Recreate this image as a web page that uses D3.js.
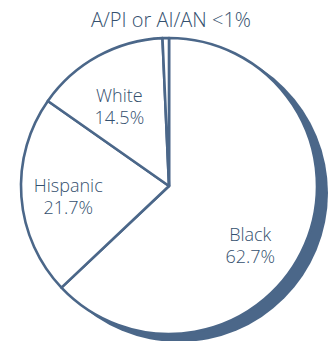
<!DOCTYPE html>
<meta charset="utf-8">
<style>
    body { margin: 0; background: #fff; }
    text {
        font-family: "Open Sans", "Lato", sans-serif;
        font-weight: 300;
        fill: #34506e;
    }
</style>

<svg width="334" height="341"></svg>

<script src="https://cdn.jsdelivr.net/npm/d3@7"></script>
<script>

    // DATA

    var groups = ["Black", "Hispanic", "White", "A/PI or AI/AN"];
    var shares = [62.7, 21.7, 14.5, 0.7];
    var shareLabels = ["62.7%", "21.7%", "14.5%", "<1%"];

    // SETUP

    var svg = d3.select("svg"),
        cx = 169, cy = 186, radius = 148,
        ink = "#4b6789";

    var pie = d3.pie().sort(null).value(function (d) { return d.v; });
    var arc = d3.arc().innerRadius(0).outerRadius(radius);
    var labelArc = d3.arc().innerRadius(95).outerRadius(95);

    // nudges so labels sit where the original puts them
    var nudge = {
        "Black": [-6, 20],
        "Hispanic": [-6, 2],
        "White": [-4, 2]
    };

    var data = groups.map(function (g, i) { return { name: g, v: shares[i], label: shareLabels[i] }; });

    var g = svg.append("g")
        .attr("transform", "translate(" + cx + "," + cy + ")");

    // shadow disc
    g.append("circle")
        .attr("cx", 10)
        .attr("cy", 7)
        .attr("r", radius + 1)
        .attr("fill", ink);

    g.selectAll(".slice")
        .data(pie(data))
        .enter().append("path")
        .attr("class", "slice")
        .attr("d", arc)
        .attr("fill", "#fff")
        .attr("stroke", ink)
        .attr("stroke-width", 2.6)
        .attr("stroke-linejoin", "round");

    // LABELS

    var inside = pie(data).filter(function (d) { return nudge[d.data.name]; });

    var lab = g.selectAll(".lab")
        .data(inside)
        .enter().append("g")
        .attr("class", "lab")
        .attr("transform", function (d) {
            var c = labelArc.centroid(d), n = nudge[d.data.name];
            return "translate(" + (c[0] + n[0]) + "," + (c[1] + n[1]) + ")";
        });

    lab.append("text")
        .attr("text-anchor", "middle")
        .attr("font-size", 18)
        .attr("y", -3)
        .text(function (d) { return d.data.name; });

    lab.append("text")
        .attr("text-anchor", "middle")
        .attr("font-size", 18)
        .attr("y", 19)
        .text(function (d) { return d.data.label; });

    var small = data[3];
    svg.append("text")
        .attr("x", 171)
        .attr("y", 27)
        .attr("text-anchor", "middle")
        .attr("font-size", 20)
        .text(small.name + " " + small.label);

</script>
